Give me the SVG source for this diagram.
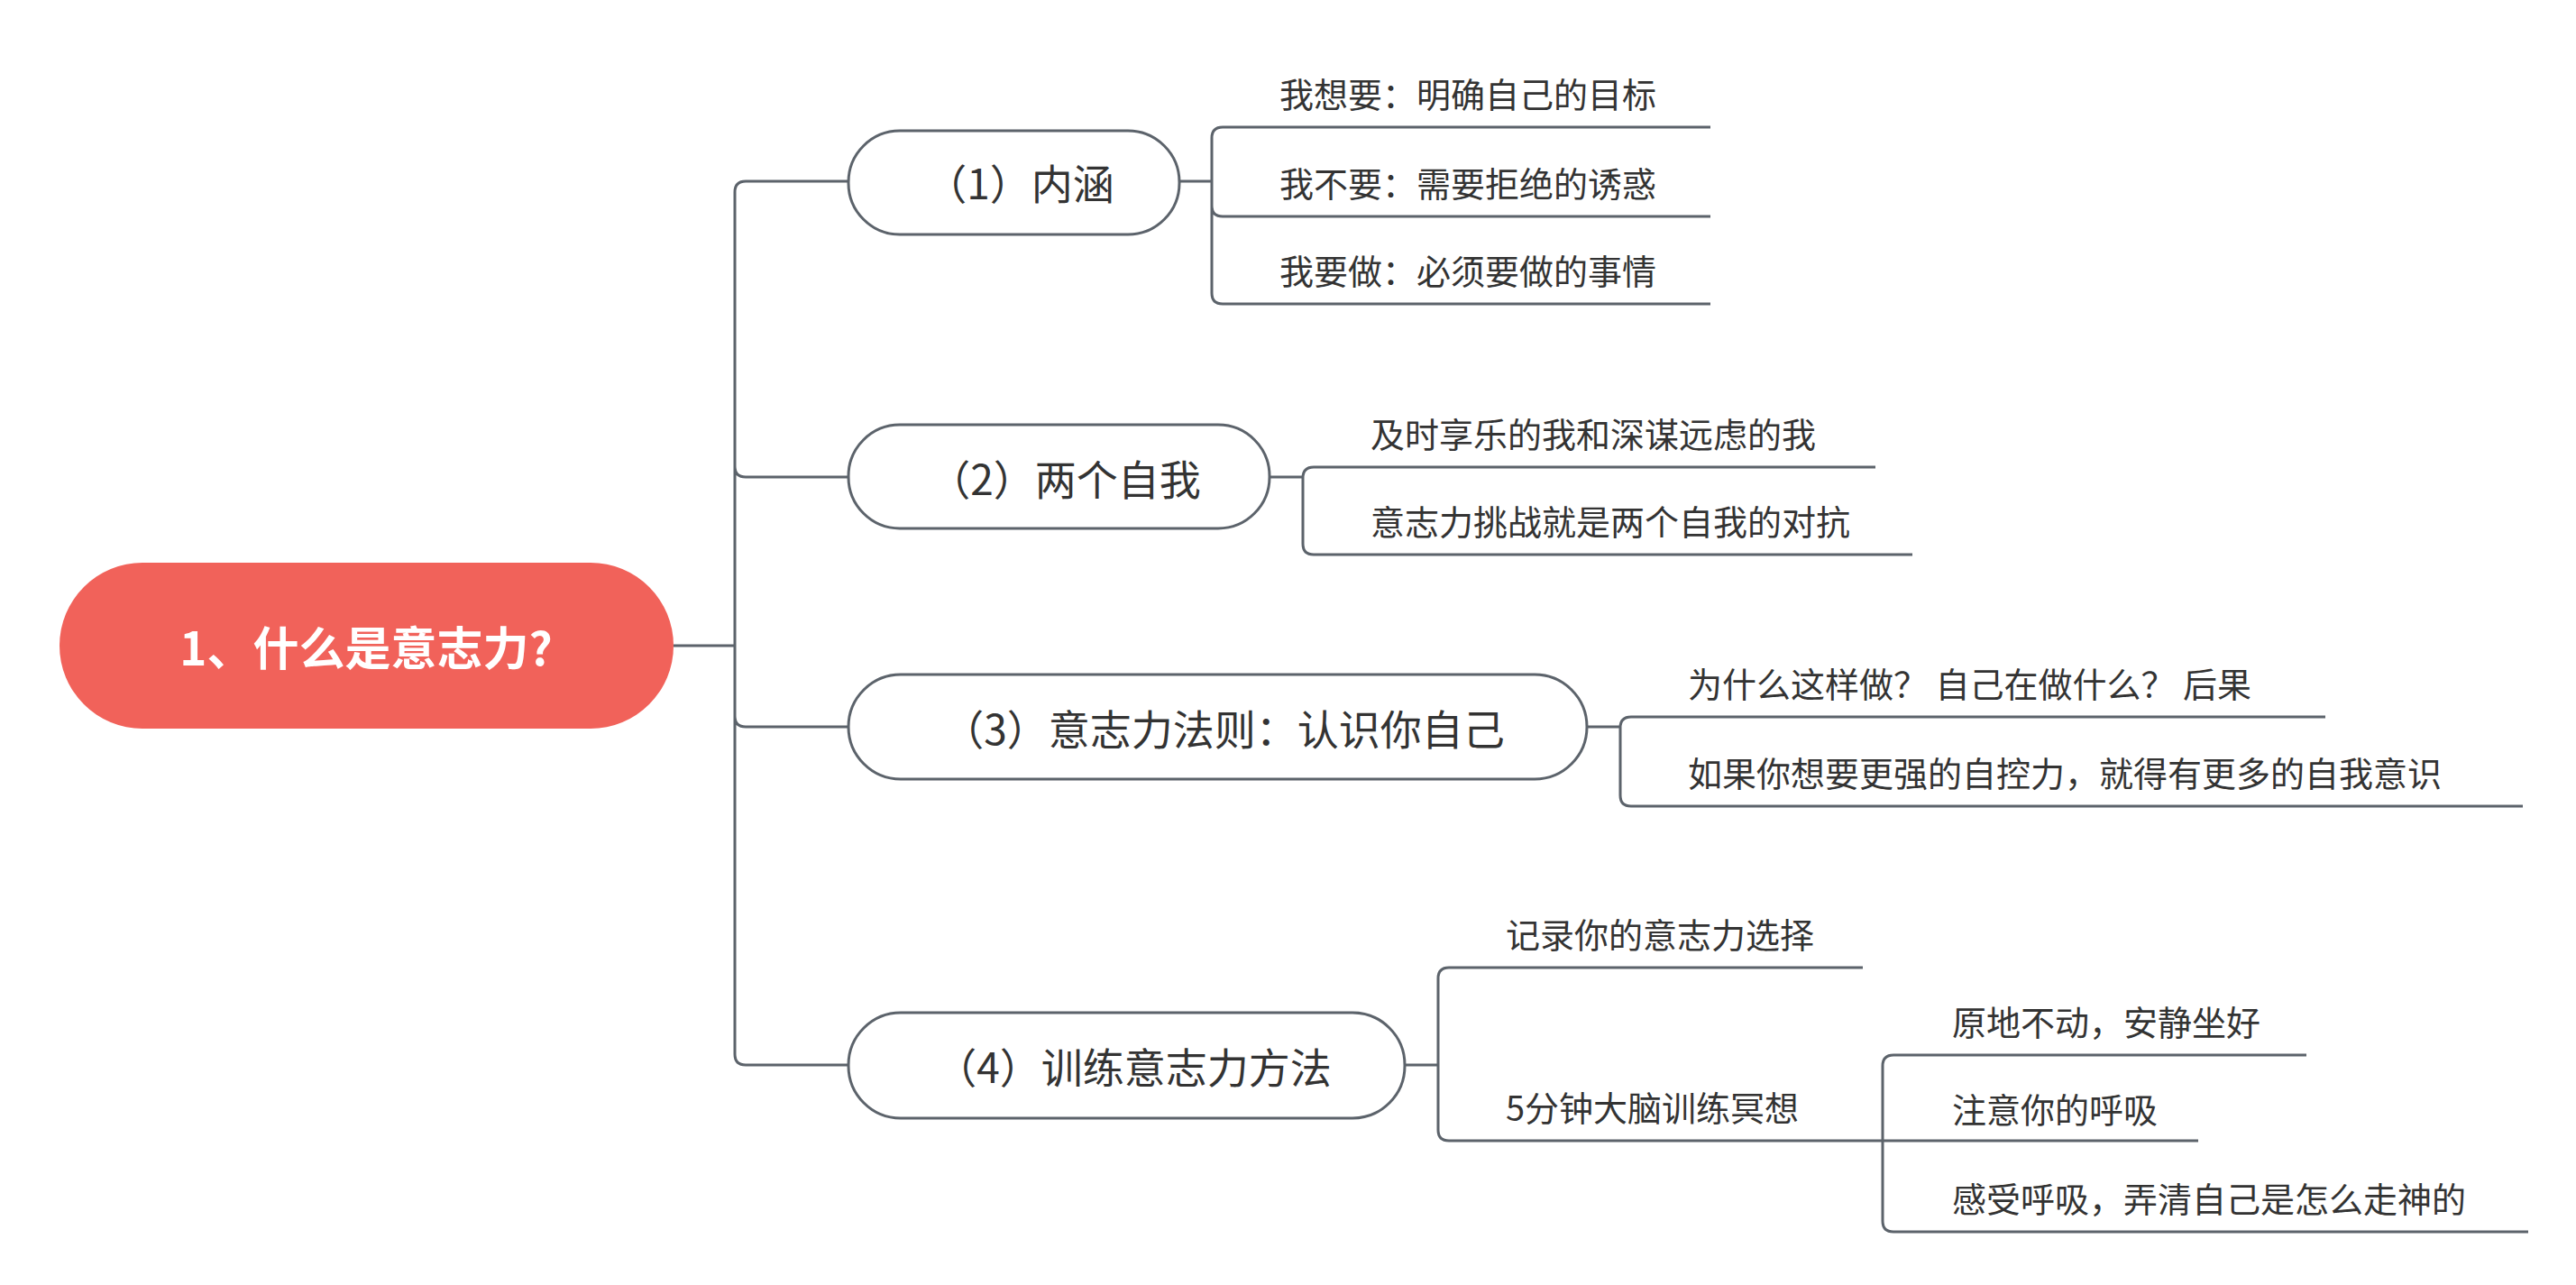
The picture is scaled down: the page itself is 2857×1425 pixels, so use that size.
<svg xmlns="http://www.w3.org/2000/svg" width="2857" height="1425" viewBox="0 0 2857 1425">
<style>
.ln{fill:none;stroke:#5c636b;stroke-width:3}
.pill{fill:#fff;stroke:#5c636b;stroke-width:3}
.t{font-family:"Noto Sans CJK SC","Liberation Sans",sans-serif;fill:#333}
.n{font-size:46px;text-anchor:middle;dominant-baseline:central}
.s{font-size:38px}
</style>
<rect width="2857" height="1425" fill="#fff"/>
<g id="connectors">
<path class="ln" d="M747,716 H815 M815,716 V213 Q815,201 827,201 H941 M815,517 Q815,529 827,529 H941 M815,794 Q815,806 827,806 H941 M815,716 V1169 Q815,1181 827,1181 H941"/>
<path class="ln" d="M1308,201 H1344 M1897,141 H1356 Q1344,141 1344,153 V325 Q1344,337 1356,337 H1897 M1344,228 Q1344,240 1356,240 H1897"/>
<path class="ln" d="M1408,529 H1445 M2080,518 H1457 Q1445,518 1445,530 V603 Q1445,615 1457,615 H2121"/>
<path class="ln" d="M1760,806 H1797 M2579,795 H1809 Q1797,795 1797,807 V882 Q1797,894 1809,894 H2798"/>
<path class="ln" d="M1558,1181 H1595 M2066,1073 H1607 Q1595,1073 1595,1085 V1253 Q1595,1265 1607,1265 H2088"/>
<path class="ln" d="M2558,1170 H2100 Q2088,1170 2088,1182 V1354 Q2088,1366 2100,1366 H2804 M2088,1265 H2438"/>
</g>
<g id="root"><rect x="66" y="624" width="681" height="184" rx="92" fill="#f1625a"/><text x="406" y="716" class="t" font-size="51" font-weight="bold" fill="#fff" style="fill:#fff" text-anchor="middle" dominant-baseline="central">1、什么是意志力?</text></g>
<g id="n1"><rect class="pill" x="941" y="145" width="367" height="115" rx="57"/><text class="t n" x="1131" y="201">（1）内涵</text></g>
<g id="n2"><rect class="pill" x="941" y="471" width="467" height="115" rx="57"/><text class="t n" x="1181" y="529">（2）两个自我</text></g>
<g id="n3"><rect class="pill" x="941" y="748" width="819" height="116" rx="58"/><text class="t n" x="1357" y="806">（3）意志力法则：认识你自己</text></g>
<g id="n4"><rect class="pill" x="941" y="1123" width="617" height="117" rx="58"/><text class="t n" x="1257" y="1181">（4）训练意志力方法</text></g>
<g id="c1a"><text class="t s" x="1419" y="119">我想要：明确自己的目标</text></g>
<g id="c1b"><text class="t s" x="1419" y="218">我不要：需要拒绝的诱惑</text></g>
<g id="c1c"><text class="t s" x="1419" y="315">我要做：必须要做的事情</text></g>
<g id="c2a"><text class="t s" x="1520" y="496">及时享乐的我和深谋远虑的我</text></g>
<g id="c2b"><text class="t s" x="1520" y="593">意志力挑战就是两个自我的对抗</text></g>
<g id="c3a"><text class="t s" x="1872" y="773">为什么这样做？ 自己在做什么？ 后果</text></g>
<g id="c3b"><text class="t s" x="1872" y="872">如果你想要更强的自控力，就得有更多的自我意识</text></g>
<g id="c4a"><text class="t s" x="1670" y="1051">记录你的意志力选择</text></g>
<g id="c4b"><text class="t s" x="1670" y="1243">5分钟大脑训练冥想</text></g>
<g id="c4b1"><text class="t s" x="2165" y="1148">原地不动，安静坐好</text></g>
<g id="c4b2"><text class="t s" x="2165" y="1245">注意你的呼吸</text></g>
<g id="c4b3"><text class="t s" x="2165" y="1344">感受呼吸，弄清自己是怎么走神的</text></g>
</svg>
